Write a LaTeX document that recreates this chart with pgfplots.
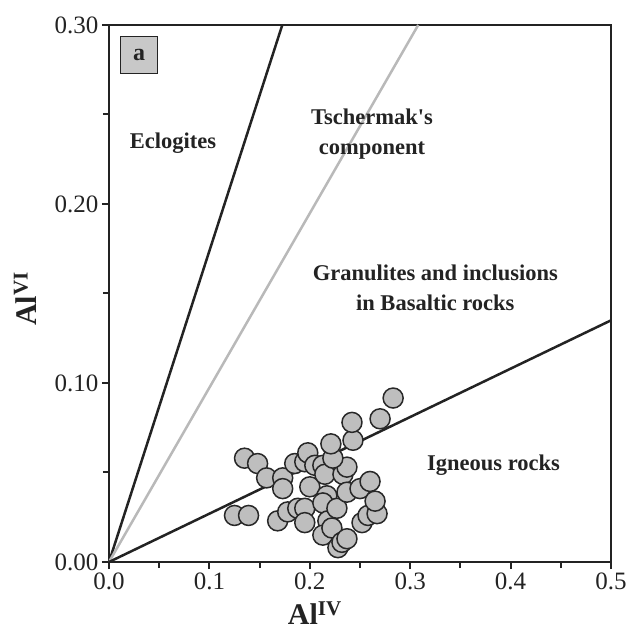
\documentclass[border=0pt]{standalone}
\usepackage{fontspec}
\setmainfont{Liberation Serif}
\usepackage{pgfplots}
\pgfplotsset{compat=1.18}
\definecolor{ptfill}{RGB}{190,190,190}
\definecolor{ptedge}{RGB}{40,40,40}
\definecolor{axisc}{RGB}{35,35,35}
\definecolor{tsch}{RGB}{185,185,185}
\definecolor{boxfill}{RGB}{200,200,200}
\begin{document}
\begin{tikzpicture}
\begin{axis}[
  width=502pt, height=537pt, scale only axis,
  xmin=0, xmax=0.5, ymin=0, ymax=0.3,
  clip=true,
  axis line style={line width=2.5pt, color=axisc},
  xtick={0,0.1,0.2,0.3,0.4,0.5}, ytick={0,0.1,0.2,0.3},
  minor x tick num=1, minor y tick num=1,
  tick align=outside, tick pos=left,
  major tick length=7pt, minor tick length=6pt,
  tick style={line width=2pt, color=axisc},
  /pgf/number format/assume math mode=true,
  xticklabel style={/pgf/number format/fixed, /pgf/number format/fixed zerofill, /pgf/number format/precision=1},
  yticklabel style={/pgf/number format/fixed, /pgf/number format/fixed zerofill, /pgf/number format/precision=2},
  ticklabel style={font=\fontsize{25}{28}\selectfont, text=axisc},
  xlabel={\textbf{Al\textsuperscript{IV}}},
  ylabel={\textbf{Al\textsuperscript{VI}}},
  xlabel style={at={(axis description cs:0.41,-0.095)}, anchor=center, font=\fontsize{30}{32}\selectfont, text=axisc},
  ylabel style={at={(axis description cs:-0.167,0.49)}, anchor=center, font=\fontsize{30}{32}\selectfont, text=axisc},
]
\addplot[only marks, mark=*, mark size=10pt, mark options={fill=ptfill, draw=ptedge, line width=1.5pt}] table {
x y
0.125 0.026
0.139 0.026
0.135 0.058
0.148 0.055
0.157 0.047
0.173 0.047
0.173 0.041
0.168 0.023
0.178 0.028
0.188 0.030
0.185 0.055
0.195 0.056
0.198 0.061
0.205 0.054
0.213 0.054
0.200 0.042
0.195 0.030
0.195 0.022
0.215 0.049
0.217 0.037
0.213 0.033
0.218 0.023
0.213 0.015
0.222 0.019
0.227 0.030
0.228 0.008
0.232 0.011
0.237 0.013
0.233 0.049
0.237 0.039
0.237 0.053
0.223 0.058
0.221 0.066
0.243 0.068
0.242 0.078
0.250 0.041
0.260 0.045
0.252 0.022
0.258 0.026
0.267 0.027
0.265 0.034
0.270 0.080
0.283 0.0916
};
\addplot[line width=2.5pt, color=axisc] coordinates {(0,0) (0.1726,0.3)};
\addplot[line width=2.5pt, color=tsch] coordinates {(0,0) (0.308,0.3)};
\addplot[line width=2.5pt, color=axisc] coordinates {(0,0) (0.5,0.135)};
\node[font=\bfseries\fontsize{22.5}{30}\selectfont, text=axisc, align=center] at (axis cs:0.0637,0.234) {Eclogites};
\node[font=\bfseries\fontsize{22.5}{30}\selectfont, text=axisc, align=center] at (axis cs:0.262,0.239) {Tschermak\textquotesingle s\\component};
\node[font=\bfseries\fontsize{22.5}{30}\selectfont, text=axisc, align=center] at (axis cs:0.325,0.153) {Granulites and inclusions\\in Basaltic rocks};
\node[font=\bfseries\fontsize{22.5}{30}\selectfont, text=axisc, align=center] at (axis cs:0.383,0.0542) {Igneous rocks};
\node[draw=axisc, fill=boxfill, line width=1.5pt, minimum size=37pt, inner sep=0pt, font=\bfseries\fontsize{24}{24}\selectfont, text=axisc] at (axis cs:0.0299,0.2832) {a};
\end{axis}
\pgfresetboundingbox
\path[use as bounding box] ([shift={(-109pt,-69pt)}]current axis.south west) rectangle ([shift={(16pt,25pt)}]current axis.north east);
\end{tikzpicture}
\end{document}
